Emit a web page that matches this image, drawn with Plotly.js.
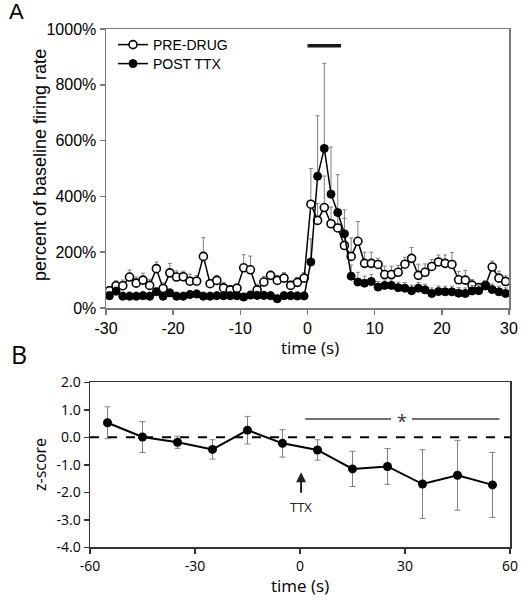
<!DOCTYPE html>
<html>
<head>
<meta charset="utf-8">
<script src="https://cdn.plot.ly/plotly-3.0.1.min.js"></script>
<style>
  html, body { margin: 0; padding: 0; background: #fff; }
  #chart { width: 522px; height: 601px; }
</style>
</head>
<body>
<div id="chart"></div>
<script>
// ---------- Panel A data ----------
const timeA = [-29.5,-28.5,-27.5,-26.5,-25.5,-24.5,-23.5,-22.5,-21.5,-20.5,
               -19.5,-18.5,-17.5,-16.5,-15.5,-14.5,-13.5,-12.5,-11.5,-10.5,
               -9.5,-8.5,-7.5,-6.5,-5.5,-4.5,-3.5,-2.5,-1.5,-0.5,
               0.5,1.5,2.5,3.5,4.5,5.5,6.5,7.5,8.5,9.5,
               10.5,11.5,12.5,13.5,14.5,15.5,16.5,17.5,18.5,19.5,
               20.5,21.5,22.5,23.5,24.5,25.5,26.5,27.5,28.5,29.5];
const preDrug = [62,80,80,111,89,100,81,141,70,126,
                 111,112,96,96,185,87,99,72,65,71,
                 144,137,65,93,117,99,107,81,92,107,
                 372,314,360,302,287,224,185,239,160,160,
                 156,120,120,128,157,178,117,128,149,165,
                 160,156,101,100,82,73,81,147,107,95];
const preDrugErr = [15,18,20,25,22,25,22,24,20,34,
                    22,20,25,20,67,15,18,20,15,15,
                    47,49,20,20,15,18,20,15,18,20,
                    128,60,113,60,50,97,66,71,40,40,
                    22,30,30,25,25,39,40,30,25,25,
                    30,43,30,35,20,15,15,21,25,20];
const postTTX = [44,60,42,42,42,44,42,58,42,54,
                 42,42,48,50,42,42,44,44,44,44,
                 39,46,45,45,44,33,44,44,43,43,
                 165,472,572,408,342,266,114,93,89,95,
                 75,81,81,73,71,62,71,65,52,59,
                 58,58,53,52,61,62,79,66,58,52];
const postTTXErr = [15,15,15,15,15,15,15,15,15,15,
                    15,15,15,15,15,15,15,15,15,15,
                    15,15,15,15,15,15,15,15,15,15,
                    83,217,305,169,136,86,40,35,25,25,
                    20,20,20,20,20,20,20,20,20,20,
                    20,20,20,20,20,20,20,20,20,20];
const zerosA = timeA.map(() => 0);
const stimBarX = [0, 5];
const stimBarY = [940, 940];
const tickValsA_x = [-30,-20,-10,0,10,20,30];
const tickTextA_x = ['-30','-20','-10','0','10','20','30'];
const tickValsA_y = [0,200,400,600,800,1000];
const tickTextA_y = ['0%','200%','400%','600%','800%','1000%'];

// ---------- Panel B data ----------
const timeB = [-55,-45,-35,-25,-15,-5,5,15,25,35,45,55];
const zScore = [0.53,0.01,-0.18,-0.44,0.26,-0.22,-0.46,-1.15,-1.06,-1.70,-1.38,-1.73];
const zErr = [0.58,0.56,0.22,0.35,0.50,0.50,0.37,0.64,0.65,1.25,1.27,1.18];
const baselineX = [-60, 60];
const baselineY = [0, 0];
const sigBarX = [1.5, 26, null, 32, 57];
const sigBarY = [0.67, 0.67, null, 0.67, 0.67];
const tickValsB_x = [-60,-30,0,30,60];
const tickTextB_x = ['-60','-30','0','30','60'];
const tickValsB_y = [-4,-3,-2,-1,0,1,2];
const tickTextB_y = ['-4.0','-3.0','-2.0','-1.0','0.0','1.0','2.0'];

// ---------- geometry helpers (pixel -> paper) ----------
const W = 522, H = 601;
const px = v => v / W;
const py = v => 1 - v / H;

const fontA = 'Liberation Sans, Arial, sans-serif';
const fontB = 'Open Sans, sans-serif';
const errGrey = '#808080';

const traces = [
  {
    x: timeA, y: preDrug, type: 'scatter', mode: 'lines+markers', name: 'PRE-DRUG',
    xaxis: 'x', yaxis: 'y', legend: 'legend',
    line: {color: '#000', width: 1.5},
    marker: {symbol: 'circle', size: 8, color: '#fff', line: {color: '#000', width: 1.6}},
    error_y: {type: 'data', symmetric: false, array: preDrugErr, arrayminus: zerosA,
              color: errGrey, thickness: 1, width: 2}
  },
  {
    x: timeA, y: postTTX, type: 'scatter', mode: 'lines+markers', name: 'POST TTX',
    xaxis: 'x', yaxis: 'y', legend: 'legend2',
    line: {color: '#000', width: 1.5},
    marker: {symbol: 'circle', size: 8, color: '#000', line: {color: '#000', width: 1}},
    error_y: {type: 'data', symmetric: false, array: postTTXErr, arrayminus: zerosA,
              color: errGrey, thickness: 1, width: 2}
  },
  {
    x: stimBarX, y: stimBarY, type: 'scatter', mode: 'lines', showlegend: false,
    xaxis: 'x', yaxis: 'y', line: {color: '#1a1a1a', width: 3.5}, hoverinfo: 'skip'
  },
  {
    x: baselineX, y: baselineY, type: 'scatter', mode: 'lines', showlegend: false,
    xaxis: 'x2', yaxis: 'y2', line: {color: '#000', width: 2, dash: 'dash'}, hoverinfo: 'skip'
  },
  {
    x: sigBarX, y: sigBarY, type: 'scatter', mode: 'lines', showlegend: false,
    xaxis: 'x2', yaxis: 'y2', line: {color: '#404040', width: 1.5}, hoverinfo: 'skip'
  },
  {
    x: timeB, y: zScore, type: 'scatter', mode: 'lines+markers', showlegend: false,
    xaxis: 'x2', yaxis: 'y2',
    line: {color: '#000', width: 2},
    marker: {symbol: 'circle', size: 9, color: '#000'},
    error_y: {type: 'data', array: zErr, color: errGrey, thickness: 1, width: 3}
  }
];

const axisCommonA = {
  showgrid: false, zeroline: false, showline: true, mirror: true,
  linecolor: '#7a7a7a', linewidth: 1.5, ticks: 'outside', ticklen: 5,
  tickcolor: '#7a7a7a', tickwidth: 1.5,
  tickfont: {family: fontA, size: 16, color: '#000'}, fixedrange: true
};
const axisCommonB = {
  showgrid: false, zeroline: false, showline: true, mirror: true,
  linecolor: '#333', linewidth: 1.5, ticks: 'outside', ticklen: 5,
  tickcolor: '#333', tickwidth: 1.5,
  tickfont: {family: fontB, size: 14, color: '#000'}, fixedrange: true
};

const legendCommon = {
  xanchor: 'left', yanchor: 'middle',
  bgcolor: 'rgba(0,0,0,0)', borderwidth: 0,
  font: {family: fontA, size: 14, color: '#000'},
  itemwidth: 30, tracegroupgap: 0
};

const layout = {
  width: W, height: H,
  margin: {l: 0, r: 0, t: 0, b: 0},
  paper_bgcolor: '#fff', plot_bgcolor: '#fff',
  showlegend: true,
  legend: Object.assign({}, legendCommon, {x: px(113), y: py(45)}),
  legend2: Object.assign({}, legendCommon, {x: px(113), y: py(64)}),
  xaxis: Object.assign({}, axisCommonA, {
    domain: [px(106), px(509)], range: [-30, 30], anchor: 'y',
    tickmode: 'array', tickvals: tickValsA_x, ticktext: tickTextA_x
  }),
  yaxis: Object.assign({}, axisCommonA, {
    domain: [py(308), py(29)], range: [0, 1000], anchor: 'x',
    tickmode: 'array', tickvals: tickValsA_y, ticktext: tickTextA_y
  }),
  xaxis2: Object.assign({}, axisCommonB, {
    domain: [px(90), px(510)], range: [-60, 60], anchor: 'y2',
    tickmode: 'array', tickvals: tickValsB_x, ticktext: tickTextB_x
  }),
  yaxis2: Object.assign({}, axisCommonB, {
    domain: [py(547.3), py(382.3)], range: [-4, 2], anchor: 'x2',
    tickmode: 'array', tickvals: tickValsB_y, ticktext: tickTextB_y
  }),
  annotations: [
    {text: 'A', xref: 'paper', yref: 'paper', x: px(16), y: py(12), showarrow: false,
     font: {family: fontA, size: 22, color: '#000'}, xanchor: 'center', yanchor: 'middle'},
    {text: 'B', xref: 'paper', yref: 'paper', x: px(19), y: py(354), showarrow: false,
     font: {family: fontB, size: 25, color: '#000'}, xanchor: 'center', yanchor: 'middle'},
    {text: 'percent of baseline firing rate', xref: 'paper', yref: 'paper',
     x: px(40), y: py(165), textangle: -90, showarrow: false,
     font: {family: fontA, size: 18, color: '#000'}, xanchor: 'center', yanchor: 'middle'},
    {text: 'time (s)', xref: 'paper', yref: 'paper', x: px(310), y: py(347), showarrow: false,
     font: {family: fontB, size: 17, color: '#000'}, xanchor: 'center', yanchor: 'middle'},
    {text: 'z-score', xref: 'paper', yref: 'paper', x: px(40), y: py(465), textangle: -90,
     showarrow: false, font: {family: fontB, size: 16, color: '#000'},
     xanchor: 'center', yanchor: 'middle'},
    {text: 'time (s)', xref: 'paper', yref: 'paper', x: px(300), y: py(585), showarrow: false,
     font: {family: fontB, size: 17, color: '#000'}, xanchor: 'center', yanchor: 'middle'},
    {text: '*', xref: 'x2', yref: 'y2', x: 29, y: 0.6, showarrow: false,
     font: {family: fontB, size: 18, color: '#333'}, xanchor: 'center', yanchor: 'middle'},
    {text: 'TTX', xref: 'x2', yref: 'y2', x: 0.3, y: -1.27, showarrow: true,
     ax: 0, ay: 35, arrowhead: 2, arrowsize: 1, arrowwidth: 2, arrowcolor: '#222',
     standoff: 0, startstandoff: 4,
     font: {family: fontB, size: 13, color: '#222'}}
  ]
};

Plotly.newPlot('chart', traces, layout, {staticPlot: true, displayModeBar: false});
</script>
</body>
</html>
